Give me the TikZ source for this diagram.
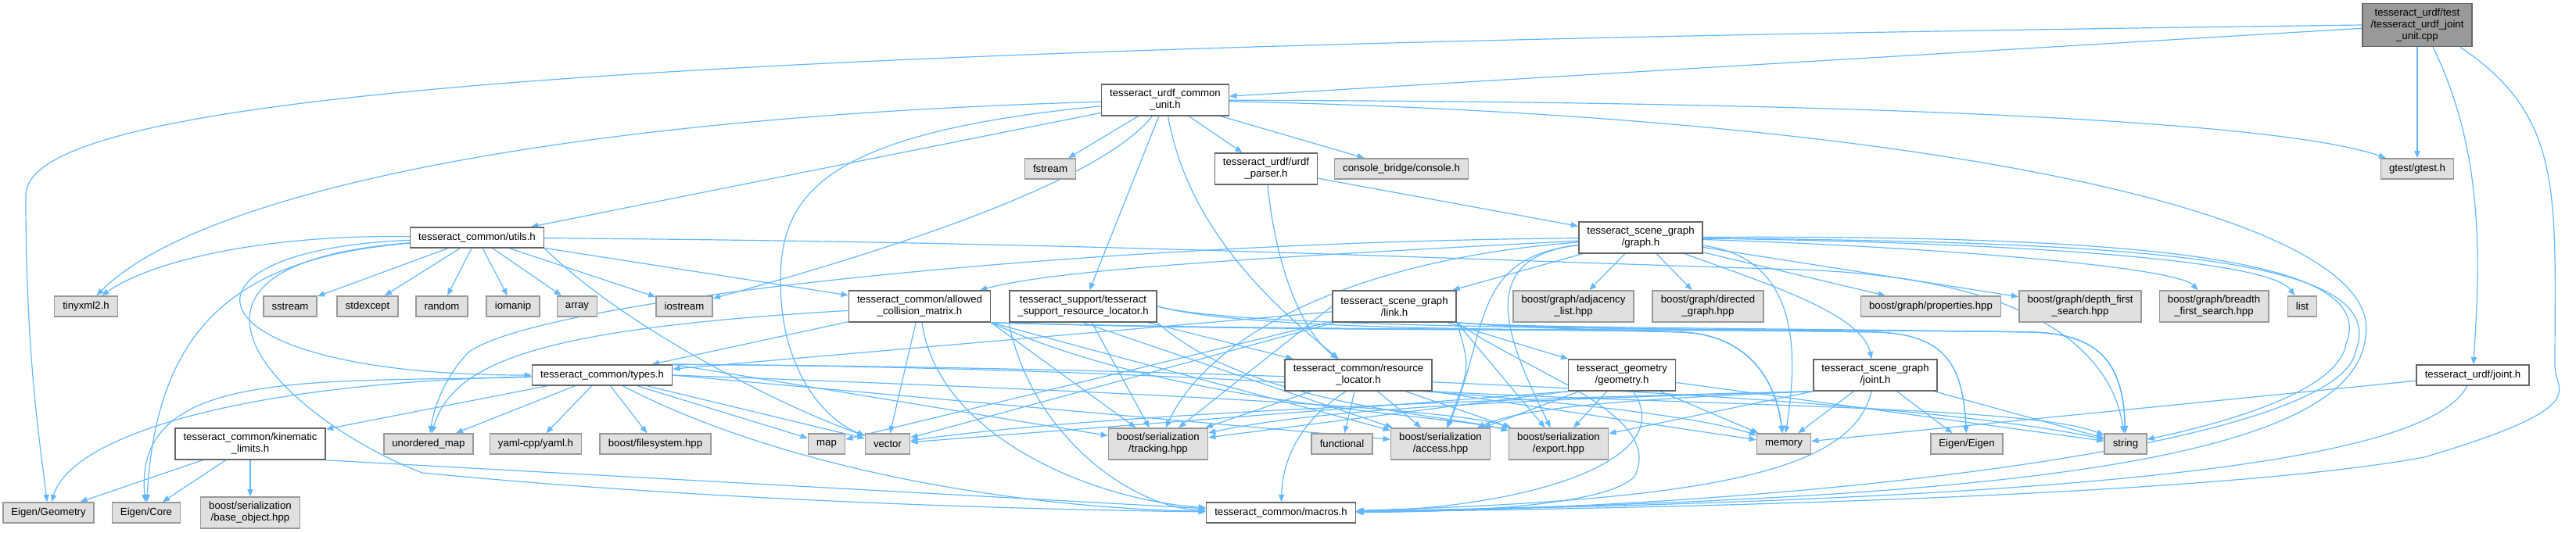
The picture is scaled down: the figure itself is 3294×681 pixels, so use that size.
\documentclass[tikz,border=0pt]{standalone}
\usepackage{fontspec}
\setmainfont{Liberation Sans}
\usetikzlibrary{arrows.meta}
\pgfdeclarelayer{bg}
\pgfsetlayers{bg,main}
\definecolor{edgec}{HTML}{63B8FF}
\definecolor{brd}{HTML}{666666}
\definecolor{xbrd}{HTML}{999999}
\definecolor{xfill}{HTML}{E0E0E0}
\definecolor{rootfill}{HTML}{999999}
\begin{document}
\begin{tikzpicture}[x=0.5pt,y=-0.5pt,
 box/.style={draw=brd, fill=white, line width=0.8pt, font=\fontsize{6.6}{7.5}\selectfont, align=center, inner xsep=5.3pt, inner ysep=0pt, minimum height=13pt},
 two/.style={minimum height=20pt},
 three/.style={minimum height=27.5pt},
 ext/.style={box, draw=xbrd, fill=xfill},
 rootn/.style={box, fill=rootfill},
 e/.style={draw=edgec, line width=0.6pt, -{Triangle[length=4.6pt,width=3.6pt]}}]
\useasboundingbox (0,0) rectangle (3294,681);

\node[rootn,three] (root) at (3091,32) {tesseract\_urdf/test\\/tesseract\_urdf\_joint\\\_unit.cpp};
\node[box,two] (ucu) at (1490,128) {tesseract\_urdf\_common\\\_unit.h};
\node[ext] (fstream) at (1343,216) {fstream};
\node[box,two] (parser) at (1619,216) {tesseract\_urdf/urdf\\\_parser.h};
\node[ext] (console) at (1792,216) {console\_bridge/console.h};
\node[ext] (gtest) at (3091,216) {gtest/gtest.h};
\node[box] (utils) at (610,304) {tesseract\_common/utils.h};
\node[box,two] (graph) at (2098,304) {tesseract\_scene\_graph\\/graph.h};
\node[ext] (tinyxml) at (110,392) {tinyxml2.h};
\node[ext] (sstream) at (371,392) {sstream};
\node[ext] (stdexcept) at (470,392) {stdexcept};
\node[ext] (random) at (565,392) {random};
\node[ext] (iomanip) at (656,392) {iomanip};
\node[ext] (array) at (738,392) {array};
\node[ext] (iostream) at (875,392) {iostream};
\node[box,two] (acm) at (1176,392) {tesseract\_common/allowed\\\_collision\_matrix.h};
\node[box,two] (srl) at (1385,392) {tesseract\_support/tesseract\\\_support\_resource\_locator.h};
\node[box,two] (link) at (1783,392) {tesseract\_scene\_graph\\/link.h};
\node[ext,two] (adj) at (2012,392) {boost/graph/adjacency\\\_list.hpp};
\node[ext,two] (directed) at (2184,392) {boost/graph/directed\\\_graph.hpp};
\node[ext] (props) at (2469,392) {boost/graph/properties.hpp};
\node[ext,two] (dfs) at (2660,392) {boost/graph/depth\_first\\\_search.hpp};
\node[ext,two] (bfs) at (2831,392) {boost/graph/breadth\\\_first\_search.hpp};
\node[ext] (list) at (2944,392) {list};
\node[box] (types) at (770,480) {tesseract\_common/types.h};
\node[box,two] (rl) at (1737,480) {tesseract\_common/resource\\\_locator.h};
\node[box,two] (geom) at (2074,480) {tesseract\_geometry\\/geometry.h};
\node[box,two] (sjoint) at (2398,480) {tesseract\_scene\_graph\\/joint.h};
\node[box] (ujoint) at (3162,480) {tesseract\_urdf/joint.h};
\node[box,two] (kin) at (320,568) {tesseract\_common/kinematic\\\_limits.h};
\node[ext] (umap) at (548,568) {unordered\_map};
\node[ext] (yaml) at (685,568) {yaml-cpp/yaml.h};
\node[ext] (fs) at (838,568) {boost/filesystem.hpp};
\node[ext] (map) at (1057,568) {map};
\node[ext] (vector) at (1135,568) {vector};
\node[ext,two] (tracking) at (1481,568) {boost/serialization\\/tracking.hpp};
\node[ext] (functional) at (1716,568) {functional};
\node[ext,two] (access) at (1842,568) {boost/serialization\\/access.hpp};
\node[ext,two] (export) at (1993,568) {boost/serialization\\/export.hpp};
\node[ext] (memory) at (2281,568) {memory};
\node[ext] (eigen) at (2515,568) {Eigen/Eigen};
\node[ext] (string) at (2718,568) {string};
\node[ext] (egeom) at (62,656) {Eigen/Geometry};
\node[ext] (ecore) at (187,656) {Eigen/Core};
\node[ext,two] (base) at (320,656) {boost/serialization\\/base\_object.hpp};
\node[box] (macros) at (1638,656) {tesseract\_common/macros.h};

\begin{pgfonlayer}{bg}
% root
\draw[e] (root) -- (ucu);
\draw[e] (root.west) .. controls (800,60) and (33,120) .. (33,250) .. controls (33,450) and (50,560) .. (egeom);
\draw[e] (root) -- (gtest);
\draw[e] ([xshift=10pt]root.south) .. controls (3180,200) and (3170,350) .. (ujoint);
\draw[e] ([xshift=-8pt]root.south east) .. controls (3280,150) and (3267,250) .. (3267,470) .. controls (3267,500) and (3320,520) .. (3100,585) .. controls (2800,640) and (2000,652) .. (macros);
% urdf common unit
\draw[e] (ucu) .. controls (700,150) and (250,250) .. (tinyxml);
\draw[e] (ucu) -- (utils);
\draw[e] (ucu) .. controls (1050,170) and (998,250) .. (998,360) .. controls (998,480) and (1060,540) .. (vector);
\draw[e] (ucu) -- (fstream);
\draw[e] (ucu) .. controls (1400,240) and (1100,330) .. (iostream);
\draw[e] (ucu) -- (srl);
\draw[e] (ucu) .. controls (1520,300) and (1640,400) .. (rl);
\draw[e] (ucu) -- (parser);
\draw[e] (ucu) -- (console);
\draw[e] (ucu) .. controls (2300,130) and (2900,150) .. (gtest);
\draw[e] (ucu) .. controls (2500,150) and (3050,280) .. (3025,430) .. controls (3010,600) and (2500,640) .. (macros);
% urdf parser
\draw[e] (parser) -- (graph);
\draw[e] (parser) .. controls (1630,330) and (1660,420) .. (rl);
% utils
\draw[e] (utils) .. controls (350,300) and (200,330) .. (tinyxml);
\draw[e] (utils) -- (sstream);
\draw[e] (utils) -- (stdexcept);
\draw[e] (utils) -- (random);
\draw[e] (utils) -- (iomanip);
\draw[e] (utils) -- (array);
\draw[e] (utils) -- (iostream);
\draw[e] (utils) .. controls (300,330) and (200,420) .. (ecore);
\draw[e] (utils) .. controls (200,320) and (230,480) .. (types);
\draw[e] (utils) .. controls (150,340) and (370,540) .. (540,605) .. controls (900,640) and (1300,652) .. (macros);
\draw[e] (utils) -- (acm);
\draw[e] (utils.south east) .. controls (800,420) and (1000,520) .. (vector);
\draw[e] (utils) .. controls (1400,310) and (1800,330) .. (2300,345) .. controls (2600,355) and (2700,450) .. (string);
% types
\draw[e] (types) -- (kin);
\draw[e] (types) -- (umap);
\draw[e] (types) -- (yaml);
\draw[e] (types) -- (fs);
\draw[e] (types) -- (map);
\draw[e] (types) .. controls (300,490) and (90,560) .. (egeom);
\draw[e] (types) .. controls (400,490) and (170,470) .. (ecore);
\draw[e] (types) -- (vector);
\draw[e] (types.north east) -- (tracking);
\draw[e] (types.east) -- (access);
\draw[e] (types.east) .. controls (1400,500) and (1850,520) .. (export);
\draw[e] (types.north east) .. controls (1500,470) and (2100,510) .. (memory);
\draw[e] (types.north east) .. controls (1500,470) and (2400,500) .. (string);
\draw[e] (types) .. controls (1000,600) and (1300,650) .. (macros);
% kinematic limits
\draw[e] (kin) -- (egeom);
\draw[e] (kin) -- (ecore);
\draw[e] (kin) -- (base);
\draw[e] (kin.south east) -- (macros);
% allowed collision matrix
\draw[e] (acm) -- (types);
\draw[e] (acm) .. controls (700,420) and (580,460) .. (umap);
\draw[e] (acm) -- (vector);
\draw[e] (acm.south east) -- (tracking);
\draw[e] (acm.south east) -- (access);
\draw[e] (acm.south east) .. controls (1500,520) and (1850,530) .. (export);
\draw[e] (acm.south east) .. controls (1700,425) and (2000,420) .. (2150,425) .. controls (2230,428) and (2270,480) .. (memory);
\draw[e] (acm.south east) .. controls (1700,425) and (2100,420) .. (2400,425) .. controls (2490,428) and (2510,470) .. (eigen);
\draw[e] (acm.south east) .. controls (1700,425) and (2300,420) .. (2600,425) .. controls (2690,428) and (2715,470) .. (string);
\draw[e] (acm) .. controls (1200,560) and (1400,640) .. (macros);
% support resource locator
\draw[e] (srl) -- (rl);
\draw[e] (srl) -- (tracking);
\draw[e] (srl.south west) .. controls (1320,560) and (1450,650) .. (macros);
\draw[e] (srl.south) -- (access);
\draw[e] (srl.south east) .. controls (1600,520) and (1850,530) .. (export);
\draw[e] (srl.east) .. controls (1600,425) and (2000,420) .. (2150,425) .. controls (2230,428) and (2270,480) .. (memory);
\draw[e] (srl.east) .. controls (1600,425) and (2300,420) .. (2600,425) .. controls (2690,428) and (2715,470) .. (string);
% resource locator
\draw[e] (rl) -- (tracking);
\draw[e] ([xshift=-8pt]rl.south) .. controls (1660,540) and (1640,590) .. (macros);
\draw[e] (rl) -- (functional);
\draw[e] (rl) -- (access);
\draw[e] (rl) -- (export);
\draw[e] (rl.south east) -- (memory);
\draw[e] (rl.south east) .. controls (2200,520) and (2600,520) .. (string);
% link
\draw[e] (link) -- (types);
\draw[e] (link) -- (geom);
\draw[e] (link.west) -- (tracking);
\draw[e] (link) -- (vector);
\draw[e] (link) -- (map);
\draw[e] (link.south east) .. controls (1880,470) .. (access);
\draw[e] (link.south east) -- (export);
\draw[e] (link.south east) .. controls (1950,420) and (2000,420) .. (2150,425) .. controls (2230,428) and (2270,480) .. (memory);
\draw[e] (link.south east) .. controls (1950,420) and (2100,420) .. (2400,425) .. controls (2490,428) and (2510,470) .. (eigen);
\draw[e] (link.south east) .. controls (1950,420) and (2300,420) .. (2600,425) .. controls (2690,428) and (2715,470) .. (string);
\draw[e] (link.south east) .. controls (1960,480) and (2130,530) .. (2090,610) .. controls (2050,650) and (1850,655) .. (macros);
% geometry
\draw[e] (geom) .. controls (2150,590) and (1950,650) .. (macros);
\draw[e] (geom) -- (access);
\draw[e] (geom) -- (export);
\draw[e] (geom.south west) -- (tracking);
\draw[e] (geom.south west) -- (vector);
\draw[e] (geom) -- (memory);
\draw[e] (geom) -- (string);
% scene graph joint
\draw[e] (sjoint) -- (memory);
\draw[e] (sjoint) -- (eigen);
\draw[e] (sjoint) -- (string);
\draw[e] (sjoint) .. controls (2370,600) and (2200,640) .. (macros);
\draw[e] (sjoint.south west) .. controls (2100,510) and (1950,520) .. (access);
\draw[e] (sjoint.south west) -- (export);
\draw[e] (sjoint.south west) .. controls (2000,510) and (1700,520) .. (tracking);
\draw[e] (sjoint.south west) .. controls (1900,510) and (1400,530) .. (vector);
% urdf joint
\draw[e] (ujoint) -- (memory);
\draw[e] (ujoint) .. controls (3100,600) and (2600,640) .. (macros);
% graph
\draw[e] (graph) -- (adj);
\draw[e] (graph) -- (directed);
\draw[e] (graph) -- (props);
\draw[e] (graph) -- (dfs);
\draw[e] (graph) .. controls (2450,315) and (2780,340) .. (bfs);
\draw[e] (graph) .. controls (2550,310) and (2900,330) .. (list);
\draw[e] (graph) .. controls (2800,300) and (3040,340) .. (3000,440) .. controls (2990,500) and (2850,540) .. (string);
\draw[e] (graph) .. controls (2750,310) and (3060,330) .. (3012,450) .. controls (2990,570) and (2300,650) .. (macros);
\draw[e] (graph) -- (link);
\draw[e] (graph) .. controls (2250,360) and (2380,400) .. (sjoint);
\draw[e] (graph) .. controls (1600,330) and (1350,345) .. (acm);
\draw[e] (graph) .. controls (1400,310) and (700,380) .. (600,450) .. controls (570,480) and (555,520) .. (umap);
\draw[e] (graph) .. controls (1750,330) and (1550,420) .. (tracking);
\draw[e] (graph) .. controls (1880,330) and (1905,420) .. (access);
\draw[e] (graph) .. controls (1880,330) and (1930,440) .. (export);
\draw[e] (graph) .. controls (2300,330) and (2300,450) .. (memory);
\end{pgfonlayer}
\end{tikzpicture}
\end{document}
